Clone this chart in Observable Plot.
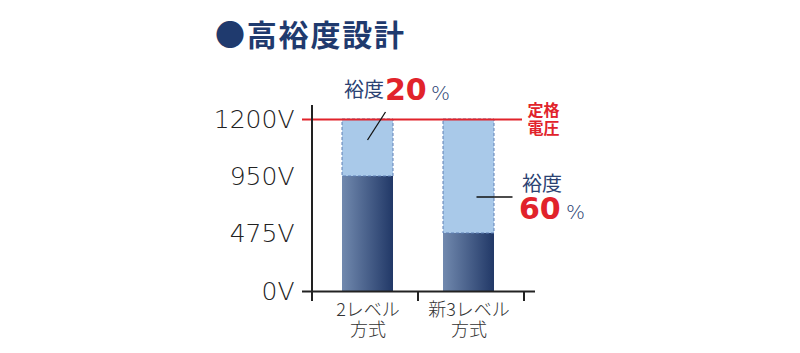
<!DOCTYPE html>
<html><head><meta charset="utf-8">
<script src="https://cdn.jsdelivr.net/npm/d3@7"></script>
<script src="https://cdn.jsdelivr.net/npm/@observablehq/plot@0.6"></script>
<style>
body{margin:0;background:#fff;}
#wrap{position:relative;width:800px;height:353px;overflow:hidden;}
#title{position:absolute;left:215px;top:14px;font-family:"Noto Sans CJK JP";font-weight:bold;font-size:30px;color:#1f3a6e;line-height:38px;white-space:nowrap;letter-spacing:1.8px;}
#wrap svg{position:absolute;left:0;top:0;}
g[aria-label="y-axis tick label"] text{font-family:"DejaVu Sans";font-weight:200;}
g[aria-label="x-axis tick label"] text{font-family:"Noto Sans CJK JP";font-weight:300;}
g[aria-label="pct"] text{letter-spacing:2px;}
</style></head><body>
<div id="wrap"><div id="title">●高裕度設計</div></div>
<script>
// ---- data ----
const categories = ["2レベル\n方式", "新3レベル\n方式"];
const ratedVoltage = [950, 475];
const ratingLimit = 1200;
const marginPct = [20, 60];
const yTicks = [0, 475, 950, 1200];
const ratingLabel = "定格\n電圧";
const marginWord = "裕度";

const bars = categories.map((cat, i) => ({cat, rated: ratedVoltage[i], pct: String(marginPct[i])}));
const navy = "#2b4272", red = "#e1232b", ink = "#222";

const defs = () => {
  const g = d3.create("svg:defs");
  const lg = g.append("linearGradient").attr("id", "barGrad")
    .attr("x1", 0).attr("x2", 1).attr("y1", 0).attr("y2", 0);
  lg.append("stop").attr("offset", 0).attr("stop-color", "#7189ae");
  lg.append("stop").attr("offset", 1).attr("stop-color", "#213867");
  return g.node();
};

const axisLines = (index, {x, y}, values, dims) => {
  const g = d3.create("svg:g").attr("stroke", ink).attr("stroke-width", 2);
  const [r0, r1] = x.range();
  const bw = x.bandwidth();
  const xs = [r0];
  for (let i = 1; i < categories.length; i++) xs.push((x(categories[i - 1]) + bw + x(categories[i])) / 2);
  xs.push(r1);
  g.selectAll("line.t").data(xs).join("line").attr("class", "t")
    .attr("x1", d => d).attr("x2", d => d).attr("y1", y(0)).attr("y2", y(0) + 10);
  g.append("line").attr("x1", r0).attr("x2", r0).attr("y1", dims.marginTop).attr("y2", y(0));
  return g.node();
};

const leaders = (index, {x, y}) => {
  const g = d3.create("svg:g").attr("stroke", "#111").attr("stroke-width", 1.3);
  const c0 = x(categories[0]) + x.bandwidth() / 2;
  const c1 = x(categories[1]) + x.bandwidth() / 2;
  const yt = y(ratingLimit);
  g.append("line").attr("x1", c0 + 18).attr("y1", yt - 7).attr("x2", c0).attr("y2", yt + 21);
  g.append("line").attr("x1", c1 + 8).attr("x2", c1 + 44).attr("y1", yt + 78).attr("y2", yt + 78);
  return g.node();
};

const b0 = [bars[0]], b1 = [bars[1]];

const chart = Plot.plot({
  width: 800,
  height: 353,
  marginLeft: 312,
  marginRight: 265,
  marginTop: 105,
  marginBottom: 62,
  style: {color: "#333", background: "transparent"},
  x: {type: "band", domain: categories, range: [312, 524], paddingInner: 0.5, paddingOuter: 0.29, label: null},
  y: {type: "linear", domain: yTicks, range: [291, 233, 176, 119], label: null},
  marks: [
    defs,
    Plot.ruleY(bars, {y: "rated", x2: "cat", insetLeft: -10, stroke: red, strokeWidth: 2, strokeDasharray: "8,7"}),
    Plot.barY(bars, {x: "cat", y1: 0, y2: "rated", fill: "url(#barGrad)"}),
    Plot.barY(bars, {x: "cat", y1: "rated", y2: ratingLimit, fill: "#a9c9e9", stroke: "#5f80b6", strokeWidth: 1, strokeDasharray: "3,2"}),
    Plot.ruleY([ratingLimit], {insetLeft: -10, insetRight: 13, stroke: red, strokeWidth: 2}),
    Plot.ruleY([0], {insetLeft: -10, stroke: ink, strokeWidth: 2}),
    axisLines,
    leaders,
    Plot.axisY({ticks: yTicks, tickFormat: d => d + "V", tickSize: 0, tickPadding: 18, fontSize: 25, label: null, fill: "#222"}),
    Plot.axisX({tickSize: 0, tickPadding: 10, fontSize: 18, lineHeight: 1.12, label: null, fill: "#333"}),
    Plot.text([ratingLabel], {frameAnchor: "right", y: ratingLimit, text: d => d, textAnchor: "start", dx: -8, lineHeight: 1.12,
      fontSize: 16, fontWeight: "bold", fontFamily: "Noto Sans CJK JP", fill: red}),
    // annotation for bar 1
    Plot.text(b0, {x: "cat", y: ratingLimit, text: () => marginWord, textAnchor: "start", dx: -24, dy: -29, fontSize: 20, fontFamily: "Noto Sans CJK JP", fill: navy}),
    Plot.text(b0, {x: "cat", y: ratingLimit, text: "pct", textAnchor: "start", dx: 17, dy: -29, fontSize: 30, fontWeight: "bold", fontFamily: "DejaVu Sans", fill: red, ariaLabel: "pct"}),
    Plot.text(b0, {x: "cat", y: ratingLimit, text: () => "%", textAnchor: "start", dx: 63, dy: -26, fontSize: 20, fontWeight: 200, fontFamily: "DejaVu Sans", fill: navy}),
    // annotation for bar 2
    Plot.text(b1, {x: "cat", y: ratingLimit, text: () => marginWord, textAnchor: "start", dx: 53, dy: 65, fontSize: 20, fontFamily: "Noto Sans CJK JP", fill: navy}),
    Plot.text(b1, {x: "cat", y: ratingLimit, text: "pct", textAnchor: "start", dx: 50, dy: 90, fontSize: 30, fontWeight: "bold", fontFamily: "DejaVu Sans", fill: red, ariaLabel: "pct"}),
    Plot.text(b1, {x: "cat", y: ratingLimit, text: () => "%", textAnchor: "start", dx: 97, dy: 93, fontSize: 20, fontWeight: 200, fontFamily: "DejaVu Sans", fill: navy})
  ]
});
document.getElementById("wrap").appendChild(chart);
</script>
</body></html>
